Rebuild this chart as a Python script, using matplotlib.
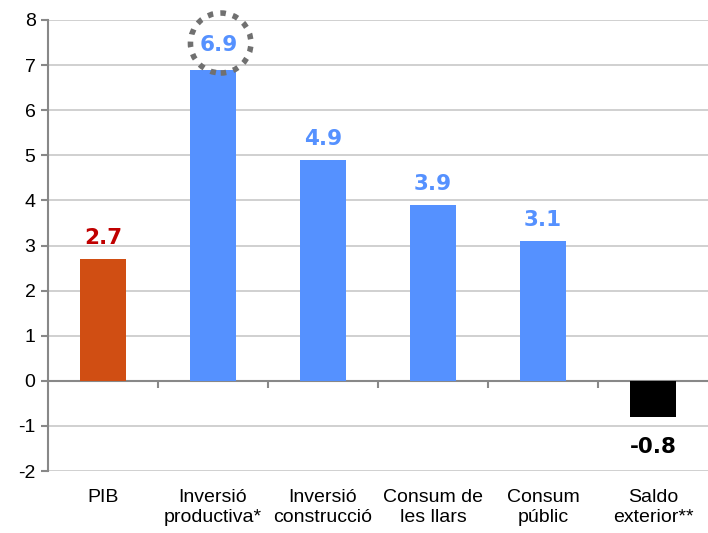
import numpy as np
import matplotlib.pyplot as plt
from matplotlib.patches import Ellipse

categories = ['PIB', 'Inversió\nproductiva*', 'Inversió\nconstrucció', 'Consum de\nles llars', 'Consum\npúblic', 'Saldo\nexterior**']
values = [2.7, 6.9, 4.9, 3.9, 3.1, -0.8]
labels = ['2.7', '6.9', '4.9', '3.9', '3.1', '-0.8']
bar_colors = ['#D04E13', '#5591FF', '#5591FF', '#5591FF', '#5591FF', '#000000']
text_colors = ['#C00000', '#5591FF', '#5591FF', '#5591FF', '#5591FF', '#000000']

plt.rcParams['font.family'] = ['Liberation Sans', 'DejaVu Sans']
plt.rcParams['axes.unicode_minus'] = False

fig = plt.figure(figsize=(7.08, 5.33), dpi=100)
ax = fig.add_axes([48/708, 1-471/533, 660/708, 451/533])

x = np.arange(len(categories))
ax.bar(x, values, width=0.41, color=bar_colors, zorder=3)
ax.set_xlim(-0.5, len(categories)-0.5)
ax.set_ylim(-2, 8)
ax.set_yticks(range(-2, 9))
ax.yaxis.grid(True, color='#C8C8C8', linewidth=1.2, zorder=0)

for s in ['top', 'right']:
	ax.spines[s].set_visible(False)
ax.spines['left'].set_color('#888888')
ax.spines['left'].set_linewidth(1.5)
ax.spines['bottom'].set_position(('data', 0))
ax.spines['bottom'].set_color('#888888')
ax.spines['bottom'].set_linewidth(1.5)

ax.set_xticks(np.arange(0.5, len(categories)-0.5))
ax.set_xticklabels([])
ax.tick_params(axis='x', length=5, width=1.5, color='#888888', direction='out')
ax.tick_params(axis='y', length=5, width=1.5, color='#888888', labelsize=14, pad=4)

for i, c in enumerate(categories):
	ax.text(i, -0.04, c, transform=ax.get_xaxis_transform(), ha='center', va='top',
		fontsize=14, linespacing=1.2)

for i, v in enumerate(values):
	off = 0.47 if v >= 0 else -0.66
	dx = 0.05 if i == 1 else 0
	if i == 1:
		off = 0.55
	ax.text(i + dx, v + off, labels[i], ha='center', va='center', fontsize=15.5,
		fontweight='bold', color=text_colors[i], zorder=4, family='DejaVu Sans')

circ = Ellipse((1.07, 7.49), width=0.55, height=1.33, fill=False, clip_on=False,
	edgecolor='#707070', linestyle=(0, (1, 1.3)), linewidth=4, zorder=5)
ax.add_patch(circ)

fig.savefig('out.png', dpi=100)
